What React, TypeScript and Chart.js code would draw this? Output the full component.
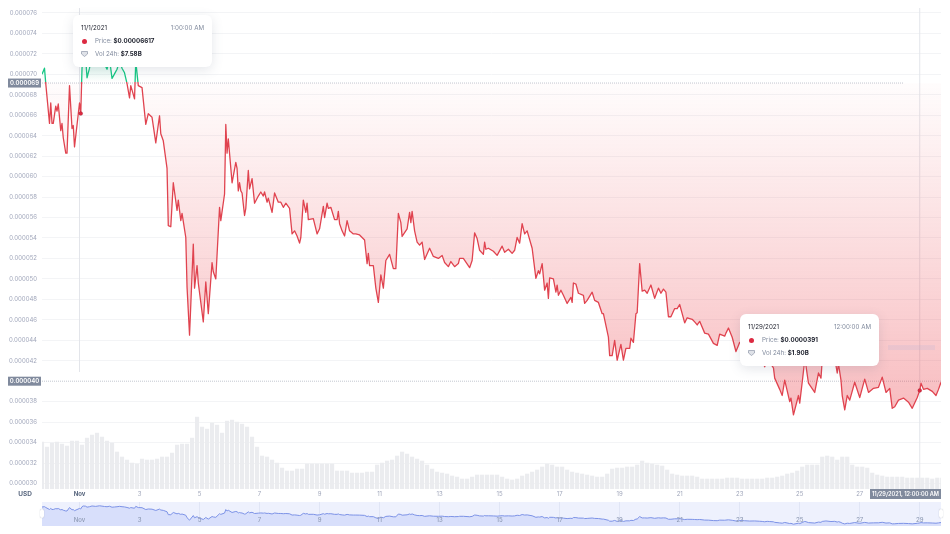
import { useEffect, useRef } from "react"
import { Chart, registerables } from "chart.js"

Chart.register(...registerables)

const FONT = "Inter, sans-serif"
const RED = "#e0434f"
const GREEN = "#16c784"
const GREY_TAG = "#808a9d"
const GREY_TEXT = "#a1a7bb"

// price in millionths of a dollar, [hours since start of chart, price]
const priceHistory: [number, number][] = [
  [0, 70.0], [2, 70.6], [3, 69.1], [6, 65.2], [7, 67.2], [8, 65.2], [9, 65.2], [11, 66.9], [12, 66.4], [13, 67.1],
  [15, 64.5], [16, 65.2], [17, 63.8], [19, 62.3], [20, 62.3], [22, 68.9], [24, 64.7], [25, 65.0], [26, 62.9], [30, 67.2],
  [31, 66.17], [32, 70.6], [33, 72.0], [35, 71.5], [36, 69.66], [38, 70.6], [40, 72.0], [43, 71.2], [46, 72.4], [50, 71.0],
  [52, 70.5], [54, 71.5], [56, 69.6], [58, 70.05], [60, 70.5], [62, 71.3], [64, 70.6], [66, 70.15], [68, 69.1], [70, 67.7],
  [71, 68.9], [74, 67.6], [75, 71.3], [77, 68.9], [80, 68.7], [83, 65.1], [85, 66.15], [88, 65.8], [91, 63.3], [94, 65.95],
  [95, 64.2], [97, 63.5], [100, 60.8], [101, 55.2], [103, 55.1], [105, 59.4], [108, 56.7], [109, 57.7], [111, 55.7], [112, 56.4],
  [115, 54.05], [116, 49.2], [118, 44.5], [121, 53.4], [122, 49.1], [124, 51.3], [125, 49.6], [129, 45.8], [131, 49.7], [133, 46.6],
  [136, 51.6], [137, 50.7], [139, 50.0], [142, 57.0], [143, 55.7], [146, 58.3], [147, 65.1], [148, 62.3], [149, 63.7], [152, 59.4],
  [155, 61.4], [156, 60.8], [157, 58.6], [158, 59.4], [159, 58.6], [160, 58.4], [162, 56.2], [163, 56.9], [165, 60.6], [166, 58.8],
  [168, 59.8], [170, 57.4], [173, 58.1], [175, 58.5], [177, 58.1], [178, 58.5], [180, 57.5], [181, 57.9], [184, 56.5], [186, 58.4],
  [189, 57.5], [191, 57.5], [193, 57.0], [195, 57.4], [198, 56.9], [200, 54.4], [202, 54.7], [204, 54.2], [206, 53.5], [207, 54.05],
  [209, 57.7], [211, 56.5], [212, 57.4], [213, 55.8], [217, 55.9], [220, 54.4], [222, 54.9], [225, 57.1], [226, 56.0], [228, 57.4],
  [229, 56.9], [231, 57.0], [234, 55.8], [236, 55.8], [237, 56.6], [238, 55.4], [240, 54.7], [242, 54.2], [244, 55.7], [246, 54.7],
  [249, 54.4], [251, 54.4], [254, 54.3], [258, 53.8], [260, 51.5], [261, 52.5], [262, 51.3], [265, 51.3], [267, 49.1], [269, 47.7],
  [271, 50.4], [273, 49.1], [275, 51.8], [278, 52.4], [281, 51.0], [283, 51.0], [285, 56.4], [287, 55.5], [288, 54.15], [292, 54.9],
  [294, 56.5], [295, 55.5], [296, 56.6], [298, 54.7], [300, 53.6], [302, 53.3], [304, 53.6], [306, 51.9], [310, 53.0], [313, 52.2],
  [317, 52.0], [320, 52.3], [322, 51.6], [325, 51.2], [327, 51.7], [330, 51.2], [333, 51.5], [334, 52.0], [337, 52.0], [342, 51.1],
  [344, 51.8], [346, 54.5], [348, 53.95], [350, 52.8], [353, 52.4], [354, 53.6], [355, 52.9], [357, 53.0], [361, 52.7], [364, 52.3],
  [368, 53.2], [370, 52.6], [373, 52.9], [376, 52.5], [378, 52.8], [380, 54.05], [382, 53.5], [384, 55.4], [386, 54.4], [388, 54.7],
  [392, 53.0], [395, 50.05], [397, 50.8], [398, 50.5], [400, 51.5], [402, 48.9], [404, 49.6], [405, 48.1], [406, 50.1], [409, 50.0],
  [411, 48.7], [412, 49.4], [413, 48.4], [415, 48.9], [417, 48.4], [420, 47.6], [423, 48.2], [424, 47.7], [425, 49.6], [427, 49.5],
  [429, 48.6], [433, 48.4], [434, 47.6], [436, 47.9], [440, 48.7], [442, 47.9], [445, 47.7], [448, 46.6], [449, 46.6], [453, 44.3],
  [454, 42.5], [456, 42.5], [458, 44.0], [460, 42.05], [463, 43.6], [465, 42.05], [467, 43.2], [470, 43.2], [471, 44.2], [473, 43.8],
  [475, 46.6], [476, 46.7], [478, 51.5], [480, 48.8], [482, 48.9], [484, 48.6], [487, 49.4], [490, 48.1], [493, 49.1], [495, 48.6],
  [497, 49.0], [499, 48.7], [501, 46.3], [503, 46.3], [506, 47.1], [508, 47.1], [510, 47.5], [512, 46.6], [514, 45.7], [516, 46.2],
  [520, 46.05], [522, 45.8], [524, 45.5], [526, 45.85], [530, 44.7], [533, 44.6], [537, 43.7], [540, 43.5], [542, 44.6], [546, 44.4],
  [547, 44.7], [549, 45.2], [552, 44.3], [555, 42.9], [557, 43.5], [558, 43.8], [562, 43.4], [566, 42.8], [570, 43.0], [574, 42.4],
  [576, 42.05], [578, 41.4], [580, 42.25], [582, 41.85], [585, 41.3], [586, 40.3], [590, 39.2], [592, 38.6], [594, 40.1], [598, 38.0],
  [599, 38.35], [601, 36.7], [605, 38.6], [606, 37.85], [608, 39.9], [610, 42.05], [611, 41.5], [613, 39.8], [618, 38.9], [621, 40.8],
  [623, 40.3], [624, 42.05], [627, 43.0], [631, 41.85], [634, 42.25], [636, 40.8], [637, 41.7], [639, 40.1], [640, 38.6], [642, 37.2],
  [644, 38.6], [646, 38.15], [650, 39.9], [654, 38.4], [658, 40.2], [661, 38.9], [665, 39.3], [669, 39.4], [672, 40.4], [675, 38.9],
  [678, 39.3], [680, 37.35], [682, 37.5], [685, 38.15], [689, 38.35], [693, 37.95], [696, 37.35], [700, 38.4], [702, 39.1], [703, 39.8],
  [705, 39.2], [708, 39.3], [712, 39.0], [715, 38.6], [717, 39.2], [719, 39.9],
]

// 24h volume in billions of dollars, one bar every 4 hours
const volumeStepHours = 4
const volumeValues = [
  7.02, 6.3, 6.87, 7.02, 6.73, 6.45, 7.16, 7.16, 6.59, 7.58, 8.01, 8.29, 7.73, 7.16, 6.87, 5.6, 4.89, 4.46, 4.03, 3.89,
  4.6, 4.46, 4.46, 4.6, 4.89, 4.89, 5.45, 6.59, 6.73, 6.73, 7.58, 10.57, 9.15, 8.86, 9.71, 9.43, 8.29, 10.0, 10.14, 9.86,
  9.57, 9.15, 7.73, 6.3, 5.03, 4.89, 4.46, 4.03, 3.32, 2.9, 2.9, 3.18, 3.18, 3.89, 3.89, 3.89,
  3.89, 3.89, 3.89, 2.9, 2.9, 2.9, 2.61, 2.61, 2.61, 2.75, 2.75, 3.75, 4.03, 4.32, 4.46, 5.03, 5.6, 5.31, 4.89, 4.6,
  4.32, 3.75, 3.18, 2.75, 2.61, 2.47, 2.19, 2.04, 1.76, 1.76, 2.04, 2.33, 2.33, 2.33, 2.33, 2.33, 2.04, 1.76, 1.62, 1.76,
  2.19, 2.47, 2.75, 3.04, 3.47, 3.89, 3.75, 3.47, 3.47, 3.04, 2.75, 2.61, 2.47, 2.33, 2.19, 2.04, 2.04, 2.47, 3.18, 3.32,
  3.32, 3.47,
  3.47, 3.75, 4.32, 4.03, 3.89, 3.75, 3.61, 3.04, 2.47, 2.33, 2.19, 2.19, 2.19, 2.04, 1.76, 1.76, 1.76, 1.76, 1.76, 1.9,
  1.9, 1.9, 1.76, 1.76, 1.76, 1.76, 1.76, 1.9, 1.9, 2.04, 2.19, 2.47, 2.61, 2.9, 3.47, 3.75, 3.75, 3.75, 4.89, 5.03,
  4.89, 4.46, 4.89, 4.89, 3.75, 3.47, 3.47, 3.32, 2.61, 2.33, 2.19, 2.04, 2.04, 2.04, 2.04, 1.9, 1.9, 1.9, 1.9, 1.9,
  1.76, 1.9, 1.9,
]

const priceTicks = [76, 74, 72, 70, 68, 66, 64, 62, 60, 58, 56, 54, 52, 50, 48, 46, 44, 42, 38, 36, 34, 32, 30]
const dateTickHours = [30, 78, 126, 174, 222, 270, 318, 366, 414, 462, 510, 558, 606, 654, 702]
const dateTickLabels = ["Nov", "3", "5", "7", "9", "11", "13", "15", "17", "19", "21", "23", "25", "27", "29"]

const openPrice = 69.15
const lastGuide = 40
const hoverPoints: [number, number][] = [[31, 66.17], [702, 39.1]]

const tooltips = [
  { left: 73, top: 15, date: "11/1/2021", time: "1:00:00 AM", price: "$0.00006617", volume: "$7.58B" },
  { left: 740, top: 314, date: "11/29/2021", time: "12:00:00 AM", price: "$0.0000391", volume: "$1.90B" },
]

const priceLabel = (v: number) => (v / 1e6).toFixed(6)

const guidePlugin = {
  id: "guides",
  beforeDatasetsDraw(chart: any) {
    const { ctx, scales } = chart
    const { x, y } = scales
    ctx.save()
    ctx.lineWidth = 1
    ctx.strokeStyle = "#e3e5ea"
    ctx.beginPath()
    ctx.moveTo(x.getPixelForValue(30), 8)
    ctx.lineTo(x.getPixelForValue(30), 372)
    ctx.moveTo(x.getPixelForValue(702), 8)
    ctx.lineTo(x.getPixelForValue(702), 489)
    ctx.stroke()
    ctx.setLineDash([1, 1])
    ctx.strokeStyle = "#c3c7d0"
    ctx.beginPath()
    ctx.moveTo(42, y.getPixelForValue(openPrice))
    ctx.lineTo(903, y.getPixelForValue(openPrice))
    ctx.moveTo(42, y.getPixelForValue(lastGuide))
    ctx.lineTo(941, y.getPixelForValue(lastGuide))
    ctx.stroke()
    ctx.restore()
  },
  afterDraw(chart: any) {
    const { ctx, scales } = chart
    const { y } = scales
    ctx.save()
    // faint band in the fill, right of the second tooltip
    ctx.fillStyle = "rgba(150,170,220,0.14)"
    ctx.fillRect(888, 345, 47, 5)
    ctx.font = `600 6px ${FONT}`
    ctx.textBaseline = "middle"
    ctx.textAlign = "center"
    for (const v of [openPrice, lastGuide]) {
      const py = y.getPixelForValue(v)
      ctx.fillStyle = GREY_TAG
      ctx.fillRect(8, py - 4.5, 33, 9)
      ctx.fillStyle = "#fff"
      ctx.fillText(priceLabel(Math.floor(v)), 24.5, py)
    }
    ctx.fillStyle = GREY_TAG
    ctx.fillRect(870, 489, 71, 10)
    ctx.fillStyle = "#fff"
    ctx.font = `600 5.6px ${FONT}`
    ctx.fillText("11/29/2021, 12:00:00 AM", 905.5, 494.5)
    ctx.fillStyle = "#58667e"
    ctx.font = `700 6.5px ${FONT}`
    ctx.fillText("USD", 25, 494.5)
    ctx.restore()
  },
}

const navLabelPlugin = {
  id: "navLabels",
  afterDraw(chart: any) {
    const { ctx, scales } = chart
    ctx.save()
    ctx.font = `500 6px ${FONT}`
    ctx.fillStyle = "#8f9bb5"
    ctx.textAlign = "center"
    ctx.textBaseline = "middle"
    dateTickLabels.forEach((label, i) => {
      ctx.fillText(label, scales.x.getPixelForValue(dateTickHours[i]), 18)
    })
    ctx.restore()
  },
}

function Tooltip({ left, top, date, time, price, volume }: (typeof tooltips)[number]) {
  return (
    <div
      style={{
        position: "absolute",
        left,
        top,
        width: 139,
        height: 52,
        boxSizing: "border-box",
        padding: "9px 8px",
        background: "#fff",
        borderRadius: 6,
        boxShadow: "0 3px 12px rgba(88,102,126,0.16)",
        fontFamily: FONT,
        fontSize: 6.2,
        lineHeight: "8px",
        color: "#808a9d",
      }}
    >
      <div style={{ display: "flex", justifyContent: "space-between", marginBottom: 3 }}>
        <span style={{ color: "#222531" }}>{date}</span>
        <span>{time}</span>
      </div>
      <div style={{ display: "flex", alignItems: "center", height: 12.5 }}>
        <span style={{ width: 5, height: 5, borderRadius: 3, background: "#dc2a41", margin: "0 8px 0 1px" }} />
        <span>Price:&nbsp;</span>
        <b style={{ color: "#222531" }}>{price}</b>
      </div>
      <div style={{ display: "flex", alignItems: "center", height: 12.5 }}>
        <svg width="7" height="6" style={{ margin: "0 7px 0 0" }}>
          <path d="M0.5 0.5H6.5V3L3.5 5.5L0.5 3Z" fill="#dfe2e8" stroke="#808a9d" strokeWidth="0.6" />
        </svg>
        <span>Vol 24h:&nbsp;</span>
        <b style={{ color: "#222531" }}>{volume}</b>
      </div>
    </div>
  )
}

export default function App() {
  const mainRef = useRef<HTMLCanvasElement>(null)
  const navRef = useRef<HTMLCanvasElement>(null)

  useEffect(() => {
    const ctx = mainRef.current!.getContext("2d")!
    const navCtx = navRef.current!.getContext("2d")!

    const lineColor = ctx.createLinearGradient(0, 0, 0, 489)
    const split = 82 / 489
    lineColor.addColorStop(0, GREEN)
    lineColor.addColorStop(split, GREEN)
    lineColor.addColorStop(split, RED)
    lineColor.addColorStop(1, RED)

    const belowFill = ctx.createLinearGradient(0, 82, 0, 416)
    belowFill.addColorStop(0, "rgba(234,57,67,0.01)")
    belowFill.addColorStop(1, "rgba(234,57,67,0.34)")
    const aboveFill = ctx.createLinearGradient(0, 55, 0, 82)
    aboveFill.addColorStop(0, "rgba(22,199,132,0.2)")
    aboveFill.addColorStop(1, "rgba(22,199,132,0)")

    const priceData = priceHistory.map(([x, y]) => ({ x, y }))

    const main = new Chart(ctx, {
      data: {
        datasets: [
          {
            type: "line",
            data: priceData,
            borderColor: lineColor,
            borderWidth: 1.3,
            borderJoinStyle: "round",
            pointRadius: 0,
            tension: 0,
            fill: { value: openPrice, above: aboveFill, below: belowFill },
            yAxisID: "y",
            order: 2,
          },
          {
            type: "scatter",
            data: hoverPoints.map(([x, y]) => ({ x, y })),
            backgroundColor: "#dc2a41",
            pointRadius: 2,
            yAxisID: "y",
            order: 1,
          },
          {
            type: "bar",
            data: volumeValues.map((y, i) => ({ x: i * volumeStepHours, y })),
            backgroundColor: "#ebecef",
            barThickness: 3.5,
            yAxisID: "vol",
            order: 3,
          },
        ],
      } as any,
      options: {
        responsive: false,
        animation: false,
        events: [],
        layout: { padding: { top: 2, right: 9 } },
        plugins: { legend: { display: false }, tooltip: { enabled: false } },
        scales: {
          x: {
            type: "linear",
            min: 0,
            max: 719,
            offset: false,
            grid: { display: false, drawTicks: false },
            border: { display: false },
            afterBuildTicks: (s: any) => {
              s.ticks = dateTickHours.map((value) => ({ value }))
            },
            afterFit: (s: any) => {
              s.height = 45
              s.paddingLeft = 0
              s.paddingRight = 0
            },
            ticks: {
              autoSkip: false,
              maxRotation: 0,
              padding: 2,
              color: (c: any) => (c.index === 0 ? "#58667e" : GREY_TEXT),
              font: (c: any) => ({ family: FONT, size: 6, weight: c.index === 0 ? 700 : 400 }),
              callback: (_v: any, i: number) => dateTickLabels[i],
            },
          },
          y: {
            min: 29.46,
            max: 76.78,
            grid: { color: "#f3f4f6", drawTicks: false },
            border: { display: false },
            afterBuildTicks: (s: any) => {
              s.ticks = priceTicks.map((value) => ({ value }))
            },
            afterFit: (s: any) => {
              s.width = 42
              s.paddingTop = 0
              s.paddingBottom = 0
            },
            ticks: {
              padding: 5,
              color: GREY_TEXT,
              font: { family: FONT, size: 6 },
              callback: (v: any) => priceLabel(v),
            },
          },
          vol: { display: false, min: 0.34, max: 69.2 },
        },
      },
      plugins: [guidePlugin],
    } as any)

    const nav = new Chart(navCtx, {
      type: "line",
      data: {
        datasets: [
          {
            data: priceData,
            borderColor: "#7c92e6",
            borderWidth: 1,
            pointRadius: 0,
            tension: 0,
            fill: "start",
            backgroundColor: "#d8dffb",
          },
        ],
      },
      options: {
        responsive: false,
        animation: false,
        events: [],
        layout: { padding: 0 },
        plugins: { legend: { display: false }, tooltip: { enabled: false } },
        scales: {
          x: {
            type: "linear",
            min: 0,
            max: 719,
            afterBuildTicks: (s: any) => {
              s.ticks = dateTickHours.map((value) => ({ value }))
            },
            afterFit: (s: any) => {
              s.height = 0
            },
            ticks: { display: false },
            grid: { color: "rgba(170,180,215,0.2)", drawTicks: false },
            border: { display: false },
          },
          y: { display: false, min: 33.2, max: 79.7 },
        },
      },
      plugins: [navLabelPlugin],
    } as any)

    return () => {
      main.destroy()
      nav.destroy()
    }
  }, [])

  return (
    <div style={{ position: "absolute", left: 0, top: 0, width: 950, height: 534, background: "#fff", overflow: "hidden" }}>
      <canvas ref={mainRef} width={950} height={534} style={{ position: "absolute", left: 0, top: 0 }} />
      <canvas
        ref={navRef}
        width={899}
        height={24}
        style={{ position: "absolute", left: 42, top: 502, background: "#eef1fd" }}
      />
      {[40, 939].map((left) => (
        <div
          key={left}
          style={{
            position: "absolute",
            left,
            top: 509,
            width: 4,
            height: 9,
            background: "#fff",
            borderRadius: 2,
            boxShadow: "0 0 1px rgba(88,102,126,0.5)",
          }}
        />
      ))}
      {tooltips.map((t) => (
        <Tooltip key={t.date} {...t} />
      ))}
    </div>
  )
}
